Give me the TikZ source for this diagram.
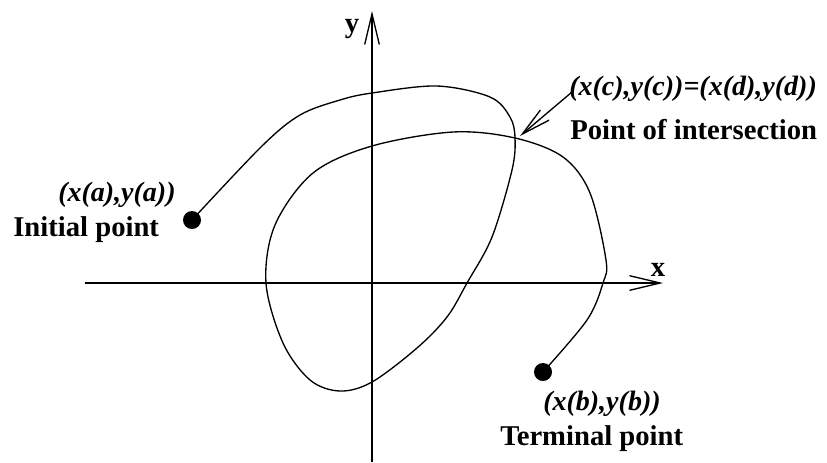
\documentclass[tikz,border=0pt]{standalone}
\usepackage{fontspec}
\setmainfont{Liberation Serif}
\usetikzlibrary{arrows.meta}

\begin{document}
\begin{tikzpicture}[
    x=0.75pt, y=-0.75pt,
    axis/.style={line width=1pt, -{Straight Barb[length=23pt, width=11pt, line width=1pt]}},
    ptr/.style={line width=1pt, -{Straight Barb[length=22pt, width=10pt, line width=1pt]}},
    curve/.style={line width=1pt},
    dot/.style={circle, fill=black, inner sep=0pt, minimum size=13.5pt},
    lbl/.style={inner sep=0pt, anchor=base west, font=\fontsize{21.5}{26}\selectfont\bfseries},
    coord/.style={inner sep=0pt, anchor=base west, font=\fontsize{21}{25}\selectfont\bfseries\itshape}
]
    \useasboundingbox (0,0) rectangle (827,462);
    % axes
    \coordinate (xl) at (85,283);
    \coordinate (xr) at (663,283);
    \coordinate (yb) at (372,462);
    \coordinate (yt) at (372,11);
    \draw[axis] (xl) -- (xr);
    \draw[axis] (yb) -- (yt);
    \node[lbl, anchor=base] (ylbl) at (352,32) {y};
    \node[lbl, anchor=base] (xlbl) at (658,276) {x};
    % end points
    \node[dot] (a) at (192,220) {};
    \node[dot] (b) at (543,372) {};
    \coordinate (cross) at (515,138);
    % the curve
    \draw[curve] plot[smooth, tension=0.55] coordinates {
        (a) (262,146) (300,115) (340,100) (372,93) (437,86) (490,97) (510,117)
        (cross) (512,170) (492,237) (467,283) (447,317) (417,348) (372,382)
        (340,391) (310,380) (283,343) (266,283) (275,225) (313,173)
        (372,146) (453,132) (cross) (563,157) (590,193) (606,260)
        (603,283) (587,320) (b)};
    % labels
    \node[coord] (alab) at (58,201) {(x(a),y(a))};
    \node[lbl] (ainit) at (13,236) {Initial point};
    \node[coord] (blab) at (543,410) {(x(b),y(b))};
    \node[lbl] (bterm) at (500,445) {Terminal point};
    \node[coord] (cdlab) at (569,95) {(x(c),y(c))=(x(d),y(d))};
    \node[lbl] (cdint) at (570,139) {Point of intersection};
    \coordinate (ptrtail) at (572,92);
    \coordinate (ptrtip) at (520,136);
    \draw[ptr] (ptrtail) -- (ptrtip);
\end{tikzpicture}
\end{document}
